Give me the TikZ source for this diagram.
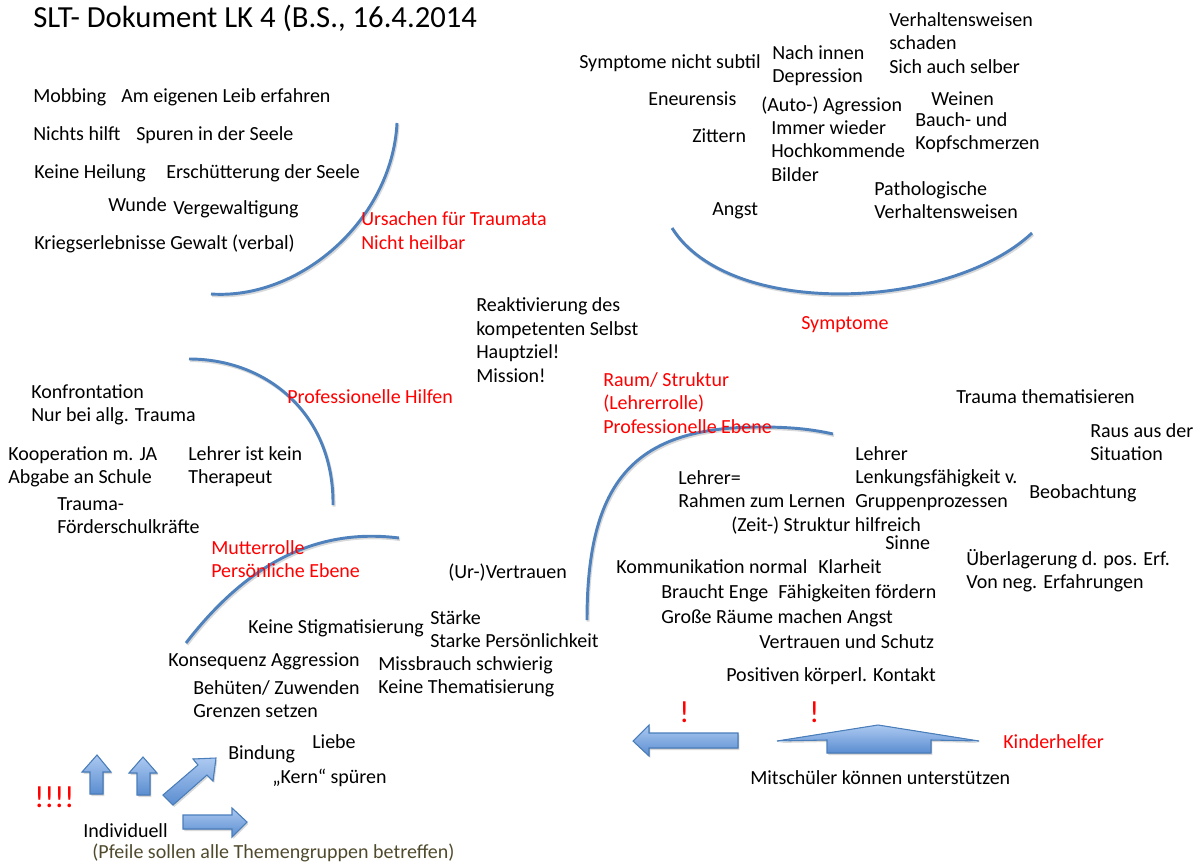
\documentclass[tikz,border=0pt]{standalone}
\usepackage{fontspec}
\setmainfont{Carlito}
\usetikzlibrary{shadows}

\definecolor{arcblue}{RGB}{79,129,189}
\definecolor{arrowtop}{RGB}{172,201,241}
\definecolor{arrowbot}{RGB}{90,141,208}
\definecolor{arrowline}{RGB}{74,126,187}
\definecolor{notebrown}{RGB}{80,74,45}

% multi-line labels sit on the baseline of their last line
\tikzset{
  txt/.style={anchor=base west,inner sep=0pt,align=left,yshift=-1pt,font=\fontsize{15}{17.6}\selectfont},
  topic/.style={txt,text=red},
  bigmark/.style={anchor=base west,inner sep=0pt,text=red,font=\fontsize{23}{24}\selectfont},
  arc/.style={draw=arcblue,line width=2.2pt,
    preaction={draw=black,opacity=0.15,line width=2.2pt,transform canvas={shift={(0.8pt,-1.2pt)}}}},
  blockarrow/.style={draw=arrowline,line width=0.8pt,top color=arrowtop,bottom color=arrowbot,
    drop shadow={opacity=0.3,shadow xshift=1pt,shadow yshift=-1.5pt}},
}

\begin{document}
\begin{tikzpicture}[x=0.75pt,y=-0.75pt]
	\useasboundingbox (0,0) rectangle (1202,863);

	%title
	\node[anchor=base west,inner sep=0pt,font=\fontsize{23}{26}\selectfont] (title) at (33,28) {SLT- Dokument LK 4 (B.S., 16.4.2014};

	%arcs
	\draw[arc] (211,294) .. controls (300,300) and (392,220) .. (397,123); %causes
	\draw[arc] (672,228) .. controls (730,320) and (950,310) .. (1032,233); %symptoms
	\draw[arc] (189,359) .. controls (268,359) and (334,415) .. (333,505); %professional help
	\draw[arc] (186,643) .. controls (250,560) and (320,528) .. (399,538); %mother role
	\draw[arc] (587,620) .. controls (587,480) and (635,427) .. (760,427)
	  .. controls (795,427) and (815,430) .. (833,434); %room / structure

	%causes
	\node[txt] (mobbing) at (33,101) {Mobbing};
	\node[txt] (leib) at (121,101) {Am eigenen Leib erfahren};
	\node[txt] (nichts) at (33,139) {Nichts hilft};
	\node[txt] (spuren) at (136,139) {Spuren in der Seele};
	\node[txt] (heilung) at (34,177) {Keine Heilung};
	\node[txt] (erschuett) at (166,177) {Erschütterung der Seele};
	\node[txt] (wunde) at (108,210) {Wunde};
	\node[txt] (vergew) at (173,213) {Vergewaltigung};
	\node[txt] (krieg) at (34,248) {Kriegserlebnisse Gewalt (verbal)};
	\node[topic] (ursachen) at (361,248) {Ursachen für Traumata\\Nicht heilbar};

	%symptoms
	\node[txt] (subtil) at (579,67) {Symptome nicht subtil};
	\node[txt] (innen) at (772,81.5) {Nach innen\\Depression};
	\node[txt] (schaden) at (889,72) {Verhaltensweisen\\schaden\\Sich auch selber};
	\node[txt] (eneur) at (648,104) {Eneurensis};
	\node[txt] (agress) at (761,110) {(Auto-) Agression};
	\node[txt] (weinen) at (931,104) {Weinen};
	\node[txt] (bauch) at (915,148.5) {Bauch- und\\Kopfschmerzen};
	\node[txt] (zittern) at (692,141) {Zittern};
	\node[txt] (bilder) at (771,180) {Immer wieder\\Hochkommende\\Bilder};
	\node[txt] (patho) at (874,217.5) {Pathologische\\Verhaltensweisen};
	\node[txt] (angst) at (712,214) {Angst};
	\node[topic] (symptome) at (801,328) {Symptome};

	%main goal
	\node[txt] (ziel) at (476,381) {Reaktivierung des\\kompetenten Selbst\\Hauptziel!\\Mission!};

	%professional help
	\node[txt] (konfront) at (31,420.5) {Konfrontation\\Nur bei allg. Trauma};
	\node[topic] (hilfen) at (287,402) {Professionelle Hilfen};
	\node[txt] (koop) at (8,482.5) {Kooperation m. JA\\Abgabe an Schule};
	\node[txt] (therapeut) at (188,482.5) {Lehrer ist kein\\Therapeut};
	\node[txt] (foerder) at (57,532.5) {Trauma-\\Förderschulkräfte};

	%mother role
	\node[topic] (mutter) at (211,576.5) {Mutterrolle\\Persönliche Ebene};
	\node[txt] (urvertr) at (448,577) {(Ur-)Vertrauen};
	\node[txt] (stigma) at (248,632) {Keine Stigmatisierung};
	\node[txt] (staerke) at (430,646.5) {Stärke\\Starke Persönlichkeit};
	\node[txt] (konseq) at (168,665) {Konsequenz Aggression};
	\node[txt] (missbr) at (378,692.5) {Missbrauch schwierig\\Keine Thematisierung};
	\node[txt] (behueten) at (193,716.5) {Behüten/ Zuwenden\\Grenzen setzen};
	\node[txt] (bindung) at (228,758) {Bindung};
	\node[txt] (liebe) at (312,747) {Liebe};
	\node[txt] (kern) at (272,782) {„Kern“ spüren};

	%individual arrows
	\node[bigmark] (marks) at (34,807) {!!!!};
	\filldraw[blockarrow] (97,755) -- (111,772) -- (103,772) -- (103,794) -- (90,794) -- (90,772) -- (82,772) -- cycle; %up
	\filldraw[blockarrow] (143,757) -- (157,773) -- (150,773) -- (150,795) -- (137,795) -- (137,773) -- (129,773) -- cycle; %up
	\filldraw[blockarrow] (216,758) -- (213,781) -- (207,775) -- (173,805) -- (163,795) -- (198,765) -- (193,759) -- cycle; %diagonal
	\filldraw[blockarrow] (247,822) -- (232,837) -- (232,829) -- (183,829) -- (183,815) -- (232,815) -- (232,808) -- cycle; %right
	\node[txt] (indiv) at (83,836) {Individuell};
	\node[txt,text=notebrown] (pfeile) at (92,857) {(Pfeile sollen alle Themengruppen betreffen)};

	%room / structure
	\node[topic] (raum) at (603,432) {Raum/ Struktur\\(Lehrerrolle)\\Professionelle Ebene};
	\node[txt] (thema) at (956,402) {Trauma thematisieren};
	\node[txt] (raus) at (1090,459.5) {Raus aus der\\Situation};
	\node[txt] (lenkung) at (855,506) {Lehrer\\Lenkungsfähigkeit v.\\Gruppenprozessen};
	\node[txt] (beob) at (1029,497) {Beobachtung};
	\node[txt] (rahmen) at (678,506.5) {Lehrer=\\Rahmen zum Lernen};
	\node[txt] (zeit) at (731,530) {(Zeit-) Struktur hilfreich};
	\node[txt] (sinne) at (885,548) {Sinne};
	\node[txt] (ueberl) at (966,587.5) {Überlagerung d. pos. Erf.\\Von neg. Erfahrungen};
	\node[txt] (komm) at (616,572) {Kommunikation normal};
	\node[txt] (klarheit) at (818,572) {Klarheit};
	\node[txt] (enge) at (661,597) {Braucht Enge};
	\node[txt] (faehig) at (778,597) {Fähigkeiten fördern};
	\node[txt] (raeume) at (661,622) {Große Räume machen Angst};
	\node[txt] (schutz) at (759,647) {Vertrauen und Schutz};
	\node[txt] (kontakt) at (726,680) {Positiven körperl. Kontakt};

	%helpers
	\node[bigmark] (markA) at (679,722) {!};
	\node[bigmark] (markB) at (809,722) {!};
	\filldraw[blockarrow] (633,741) -- (649,725) -- (649,733) -- (738,733) -- (738,748) -- (649,748) -- (649,756) -- cycle; %left
	\filldraw[blockarrow] (777,741) -- (878,725) -- (979,741) -- (931,740) -- (931,753) -- (827,753) -- (827,740) -- cycle; %wide up
	\node[topic] (kinder) at (1003,747) {Kinderhelfer};
	\node[txt] (mitsch) at (750,783) {Mitschüler können unterstützen};
\end{tikzpicture}
\end{document}
